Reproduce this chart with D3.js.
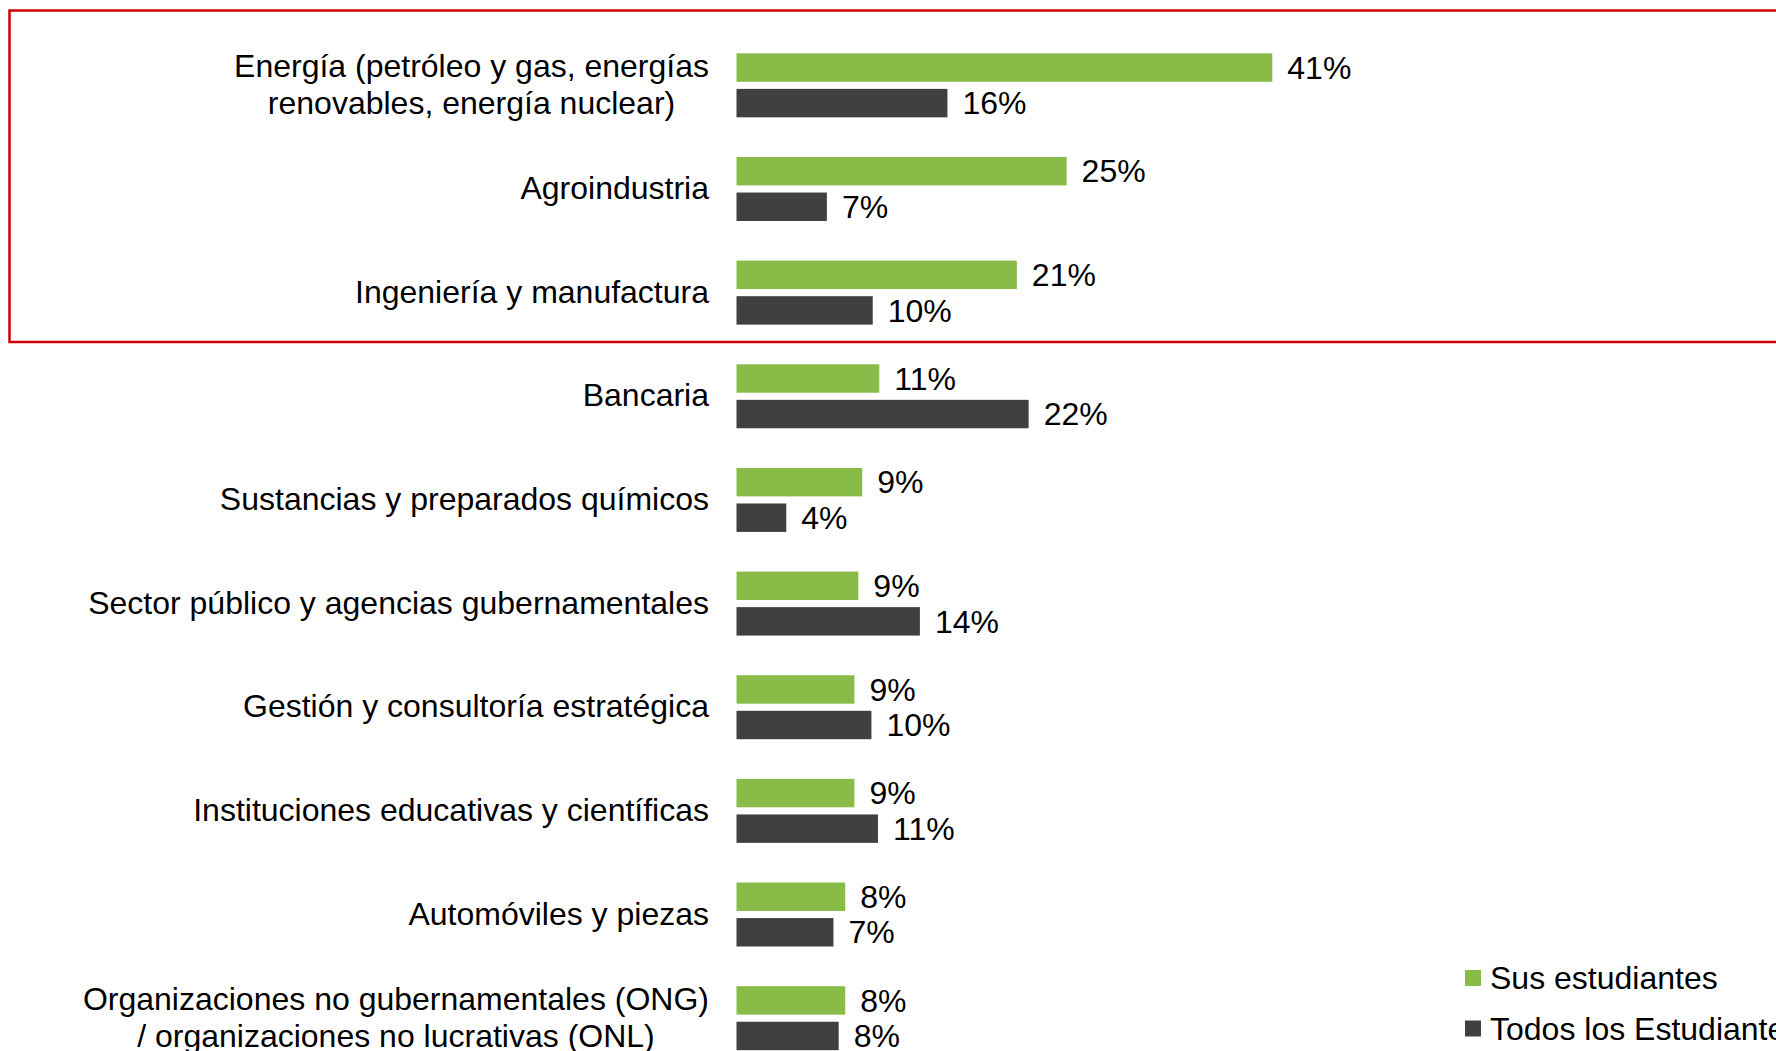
<!DOCTYPE html>
<html>
<head>
<meta charset="utf-8">
<script src="https://cdn.jsdelivr.net/npm/d3@7"></script>
<style>
  html, body { margin: 0; padding: 0; background: #fff; overflow: hidden; }
  svg { display: block; }
</style>
</head>
<body>
<svg id="chart" width="1776" height="1051"></svg>
<script>
// categories, top to bottom (multi-line labels split with "|")
var categories = [
  "Energía (petróleo y gas, energías|renovables, energía nuclear)",
  "Agroindustria",
  "Ingeniería y manufactura",
  "Bancaria",
  "Sustancias y preparados químicos",
  "Sector público y agencias gubernamentales",
  "Gestión y consultoría estratégica",
  "Instituciones educativas y científicas",
  "Automóviles y piezas",
  "Organizaciones no gubernamentales (ONG)|/ organizaciones no lucrativas (ONL)"
];

var seriesNames = ["Sus estudiantes", "Todos los Estudiantes"];
var seriesColors = ["#88bb48", "#404040"];

// values (labels shown rounded)
var susEstudiantes = [40.9, 25.2, 21.4, 10.9, 9.6, 9.3, 9.0, 9.0, 8.3, 8.3];
var todosEstudiantes = [16.1, 6.9, 10.4, 22.3, 3.8, 14.0, 10.3, 10.8, 7.4, 7.8];

// labels printed next to the bars
var susLabels = ["41%", "25%", "21%", "11%", "9%", "9%", "9%", "9%", "8%", "8%"];
var todosLabels = ["16%", "7%", "10%", "22%", "4%", "14%", "10%", "11%", "7%", "8%"];

var FONT = "'Liberation Sans', Arial, sans-serif";

var svg = d3.select("#chart"),
    width = +svg.attr("width"),
    height = +svg.attr("height");

svg.style("font-family", FONT);

var x = d3.scaleLinear()
    .domain([0, 100])
    .range([736.5, 736.5 + 1310]);

var y0 = d3.scaleBand()
    .domain(d3.range(categories.length))
    .range([33.5, 1070])
    .padding(0);

var y1 = d3.scaleBand()
    .domain([0, 1])
    .range([y0.bandwidth() / 2 - 32, y0.bandwidth() / 2 + 32])
    .paddingInner(0.2);

var color = d3.scaleOrdinal().domain([0, 1]).range(seriesColors);

// highlight box round the first three sectors
svg.append("rect")
    .attr("x", 9.5)
    .attr("y", 10.5)
    .attr("width", width + 20)
    .attr("height", 331.5)
    .attr("fill", "none")
    .attr("stroke", "#d00000")
    .attr("stroke-width", 2.5);

var rows = categories.map(function(c, i) {
  return {
    name: c,
    vals: [
      { s: 0, v: susEstudiantes[i], label: susLabels[i] },
      { s: 1, v: todosEstudiantes[i], label: todosLabels[i] }
    ]
  };
});

var group = svg.selectAll(".cat")
    .data(rows)
    .enter().append("g")
    .attr("class", "cat")
    .attr("transform", function(d, i) { return "translate(0," + y0(i) + ")"; });

group.selectAll("rect")
    .data(function(d) { return d.vals; })
    .enter().append("rect")
    .attr("x", x(0))
    .attr("y", function(d) { return y1(d.s); })
    .attr("width", function(d) { return x(d.v) - x(0); })
    .attr("height", y1.bandwidth())
    .attr("fill", function(d) { return color(d.s); });

group.selectAll(".val")
    .data(function(d) { return d.vals; })
    .enter().append("text")
    .attr("class", "val")
    .attr("x", function(d) { return x(d.v) + 15; })
    .attr("y", function(d) { return y1(d.s) + y1.bandwidth() / 2; })
    .attr("dy", "0.35em")
    .attr("font-size", 32)
    .attr("fill", "#000")
    .text(function(d) { return d.label; });

// category labels: block right aligned at the bars, lines centred inside it
var labelRight = 709;
group.append("text")
    .attr("class", "cat-label")
    .attr("font-size", 32)
    .attr("fill", "#000")
    .each(function(d) {
      var lines = d.name.split("|");
      var t = d3.select(this);
      var lh = 37;
      var spans = lines.map(function(line, k) {
        return t.append("tspan")
          .attr("y", y0.bandwidth() / 2 - 1 + (k - (lines.length - 1) / 2) * lh)
          .attr("dy", "0.35em")
          .text(line);
      });
      var maxW = d3.max(spans, function(s) { return s.node().getComputedTextLength(); });
      t.attr("text-anchor", "middle");
      spans.forEach(function(s) { s.attr("x", labelRight - maxW / 2); });
    });

// legend
var legend = svg.append("g")
    .attr("transform", "translate(1465,970)");

var item = legend.selectAll("g")
    .data(seriesNames)
    .enter().append("g")
    .attr("transform", function(d, i) { return "translate(0," + (i * 50.5) + ")"; });

item.append("rect")
    .attr("width", 16)
    .attr("height", 16)
    .attr("fill", function(d, i) { return seriesColors[i]; });

item.append("text")
    .attr("x", 25)
    .attr("y", 8)
    .attr("dy", "0.35em")
    .attr("font-size", 32)
    .attr("fill", "#000")
    .text(function(d) { return d; });
</script>
</body>
</html>
